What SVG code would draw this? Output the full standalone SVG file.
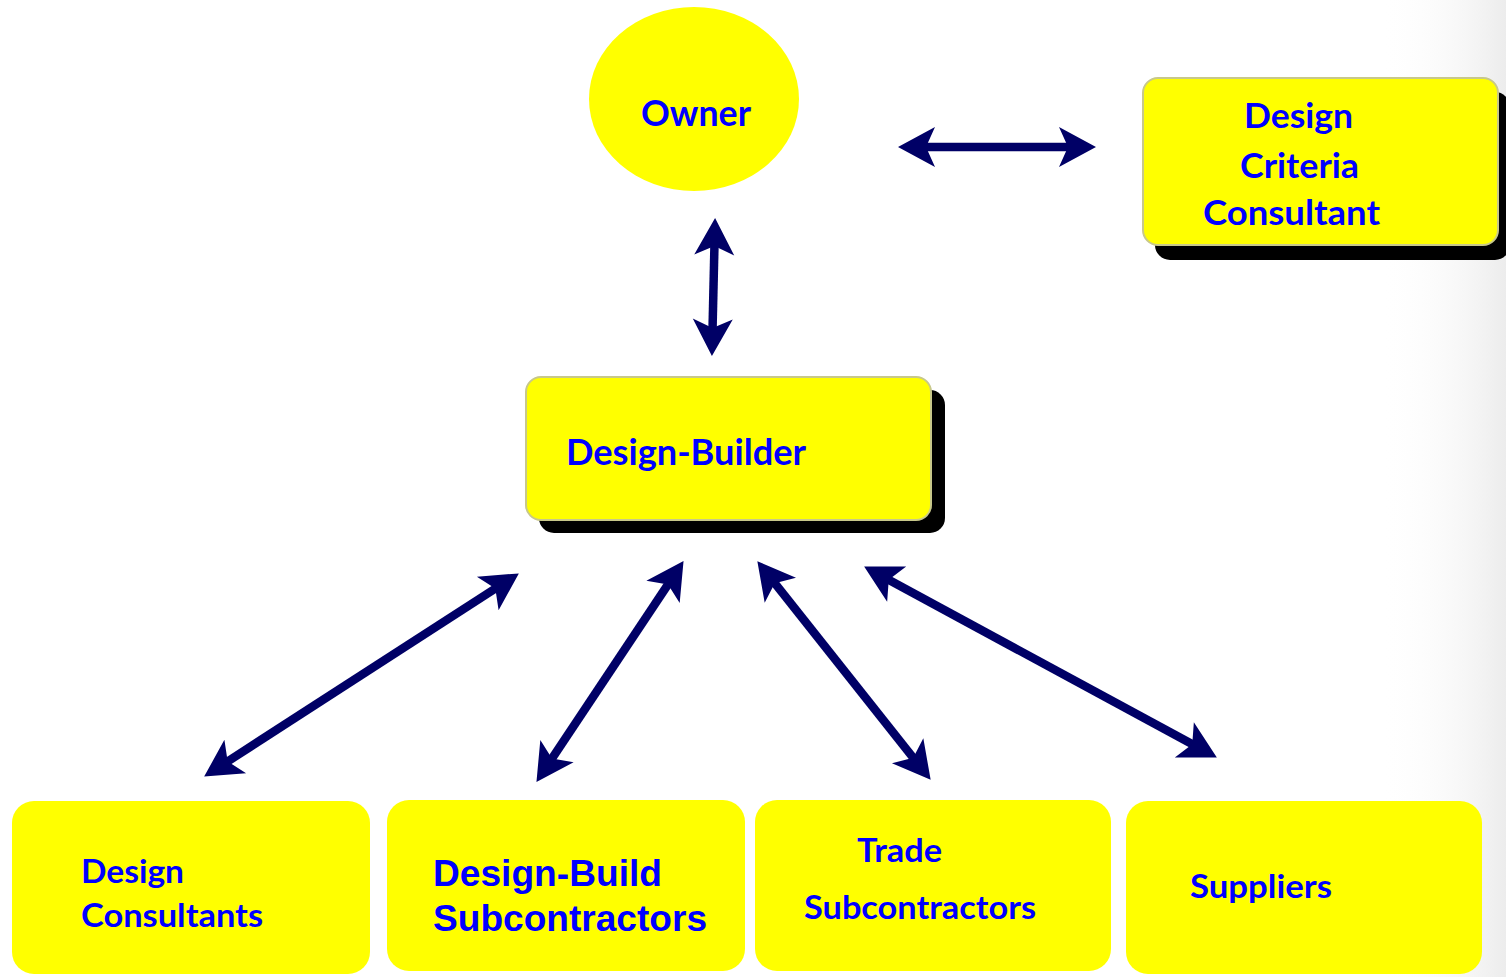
<svg xmlns="http://www.w3.org/2000/svg" width="1506" height="977" viewBox="0 0 1506 977">
  <defs>
    <linearGradient id="edgeShade" x1="0" y1="0" x2="1" y2="0">
      <stop offset="0" stop-color="#ffffff" stop-opacity="0"/>
      <stop offset="1" stop-color="#ececec"/>
    </linearGradient>
    <marker id="head" viewBox="-2 -24 44 48" markerWidth="44" markerHeight="48" refX="16" refY="0" markerUnits="userSpaceOnUse" orient="auto-start-reverse">
      <path d="M0,-20 L37,0 L0,20 L9,0 Z" fill="#000066"/>
    </marker>
    <style>
      .box { fill: #ffff00; }
      .framed { stroke: #c8c88a; stroke-width: 2; }
      .shadow { fill: #000000; }
      .lbl { font-family: Lato, "Open Sans", "Liberation Sans", sans-serif; font-weight: bold; fill: #0000ff; }
      .arial { font-family: "Liberation Sans", Arial, sans-serif; font-weight: bold; fill: #0000ff; }
      .link { stroke: #000066; stroke-width: 8.5; fill: none; marker-start: url(#head); marker-end: url(#head); }
    </style>
  </defs>

  <rect x="0" y="0" width="1506" height="977" fill="#ffffff"/>
  <rect x="1380" y="0" width="126" height="977" fill="url(#edgeShade)"/>

  <!-- Owner -->
  <g id="owner">
    <ellipse cx="694" cy="99" rx="105" ry="92" class="box"/>
    <text x="641" y="126" class="lbl" font-size="37" textLength="110" lengthAdjust="spacingAndGlyphs">Owner</text>
  </g>

  <!-- Design Criteria Consultant -->
  <g id="design-criteria-consultant">
    <rect x="1155" y="92" width="355" height="168" rx="15" class="shadow"/>
    <rect x="1143" y="78" width="355" height="167" rx="15" class="box framed"/>
    <text x="1244" y="128" class="lbl" font-size="34" textLength="109" lengthAdjust="spacingAndGlyphs">Design</text>
    <text x="1240" y="178" class="lbl" font-size="34" textLength="119" lengthAdjust="spacingAndGlyphs">Criteria</text>
    <text x="1203" y="225" class="lbl" font-size="34" textLength="177" lengthAdjust="spacingAndGlyphs">Consultant</text>
  </g>

  <!-- Design-Builder -->
  <g id="design-builder">
    <rect x="539" y="390" width="406" height="143" rx="15" class="shadow"/>
    <rect x="526" y="377" width="405" height="143" rx="15" class="box framed"/>
    <text x="566" y="465" class="lbl" font-size="37" textLength="240" lengthAdjust="spacingAndGlyphs">Design-Builder</text>
  </g>

  <!-- Lower tier -->
  <g id="design-consultants">
    <rect x="12" y="801" width="358" height="173" rx="22" class="box"/>
    <text x="81" y="883" class="lbl" font-size="32" textLength="103" lengthAdjust="spacingAndGlyphs">Design</text>
    <text x="81" y="927" class="lbl" font-size="32" textLength="182" lengthAdjust="spacingAndGlyphs">Consultants</text>
  </g>

  <g id="design-build-subcontractors">
    <rect x="387" y="800" width="358" height="171" rx="22" class="box"/>
    <text x="433" y="886" class="arial" font-size="36" textLength="229" lengthAdjust="spacingAndGlyphs">Design-Build</text>
    <text x="433" y="931" class="arial" font-size="36" textLength="274" lengthAdjust="spacingAndGlyphs">Subcontractors</text>
  </g>

  <g id="trade-subcontractors">
    <rect x="755" y="800" width="356" height="171" rx="22" class="box"/>
    <text x="857" y="862" class="lbl" font-size="33" textLength="85" lengthAdjust="spacingAndGlyphs">Trade</text>
    <text x="804" y="919" class="lbl" font-size="33" textLength="232" lengthAdjust="spacingAndGlyphs">Subcontractors</text>
  </g>

  <g id="suppliers">
    <rect x="1126" y="801" width="356" height="173" rx="22" class="box"/>
    <text x="1190" y="898" class="lbl" font-size="32" textLength="142" lengthAdjust="spacingAndGlyphs">Suppliers</text>
  </g>

  <!-- Two-way links -->
  <g id="connectors">
    <line x1="919" y1="147" x2="1075" y2="147" class="link"/>
    <line x1="714.6" y1="239" x2="712.4" y2="335" class="link"/>
    <line x1="501.2" y1="584.8" x2="221.8" y2="765.2" class="link"/>
    <line x1="671.9" y1="578.6" x2="548.1" y2="764.4" class="link"/>
    <line x1="770.4" y1="577.7" x2="917.6" y2="763.3" class="link"/>
    <line x1="882.6" y1="576.5" x2="1198.4" y2="747.5" class="link"/>
  </g>
</svg>
